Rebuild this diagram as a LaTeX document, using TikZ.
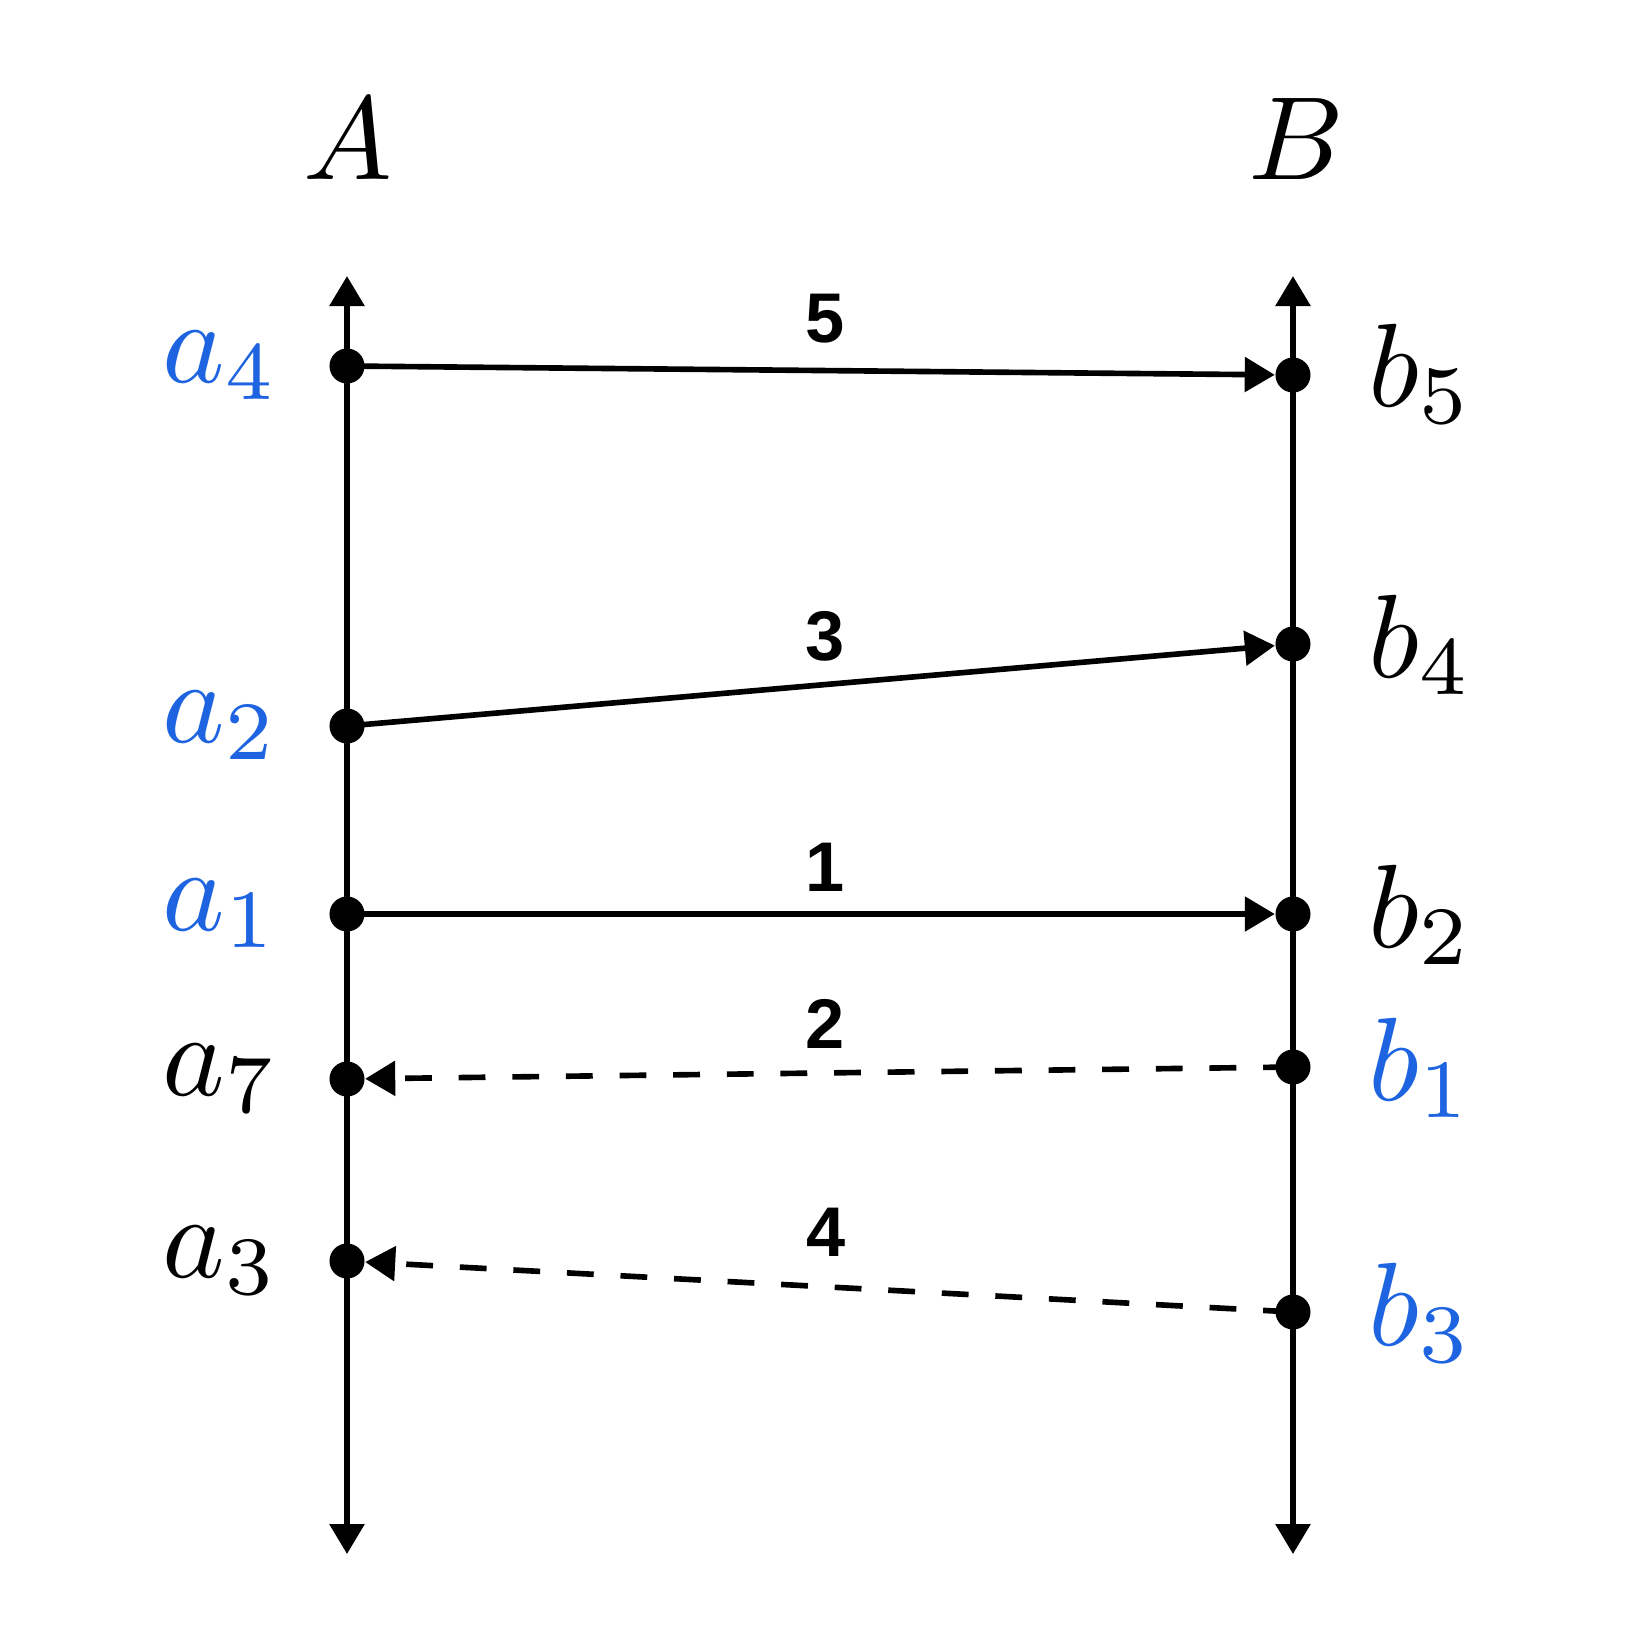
\documentclass[tikz,border=0pt]{standalone}
\usepackage{fontspec}
\newfontfamily\numfont{Liberation Sans}
\usetikzlibrary{arrows.meta}
\definecolor{lblblue}{RGB}{30,100,225}
\tikzset{
  dot/.style={circle,fill=black,inner sep=0pt,minimum size=0.35cm},
  axisline/.style={line width=1.7pt,{Triangle[length=0.3cm,width=0.34cm]}-{Triangle[length=0.3cm,width=0.34cm]}},
  msg/.style={line width=1.6pt,-{Triangle[length=0.3cm,width=0.34cm]}},
  dashmsg/.style={msg,dash pattern=on 0.268cm off 0.268cm,dash phase=0.505cm},
  mathlbl/.style={inner sep=0pt,font=\fontsize{10}{12}\selectfont,scale=3.37},
  leftlbl/.style={mathlbl,anchor=base east},
  rightlbl/.style={mathlbl,anchor=base west},
  numlbl/.style={inner sep=0pt,anchor=base,font=\fontsize{20}{24}\selectfont\numfont\bfseries},
}
\begin{document}
\begin{tikzpicture}[x=0.01cm,y=-0.01cm]
\useasboundingbox (0,0) rectangle (1650,1650);
% axes
\coordinate (Atop) at (347,276);
\coordinate (Abot) at (347,1554);
\coordinate (Btop) at (1293,276);
\coordinate (Bbot) at (1293,1554);
\draw[axisline] (Abot) -- (Atop);
\draw[axisline] (Bbot) -- (Btop);
% headings
\node[mathlbl,anchor=base] (A) at (348,179) {$A$};
\node[mathlbl,anchor=base] (B) at (1296,179) {$B$};
% dots
\node[dot] (a4) at (347,366) {};
\node[dot] (a2) at (347,726) {};
\node[dot] (a1) at (347,914) {};
\node[dot] (a7) at (347,1079) {};
\node[dot] (a3) at (347,1261) {};
\node[dot] (b5) at (1293,375) {};
\node[dot] (b4) at (1293,644) {};
\node[dot] (b2) at (1293,914) {};
\node[dot] (b1) at (1293,1067) {};
\node[dot] (b3) at (1293,1312) {};
% messages
\draw[msg] (a4.center) -- (b5);
\draw[msg] (a2.center) -- (b4);
\draw[msg] (a1.center) -- (b2);
\draw[dashmsg] (b1.center) -- (a7);
\draw[dashmsg] (b3.center) -- (a3);
% message numbers
\node[numlbl] (n5) at (825,342) {5};
\node[numlbl] (n3) at (825,660) {3};
\node[numlbl] (n1) at (825,891) {1};
\node[numlbl] (n2) at (825,1048) {2};
\node[numlbl] (n4) at (826,1256) {4};
% left labels
\node[leftlbl,text=lblblue] (la4) at (281,382) {$a_4$};
\node[leftlbl,text=lblblue] (la2) at (281,742) {$a_2$};
\node[leftlbl,text=lblblue] (la1) at (281,930) {$a_1$};
\node[leftlbl] (la7) at (281,1095) {$a_7$};
\node[leftlbl] (la3) at (281,1277) {$a_3$};
% right labels
\node[rightlbl] (lb5) at (1366,406) {$b_5$};
\node[rightlbl] (lb4) at (1366,677) {$b_4$};
\node[rightlbl] (lb2) at (1366,947) {$b_2$};
\node[rightlbl,text=lblblue] (lb1) at (1366,1100) {$b_1$};
\node[rightlbl,text=lblblue] (lb3) at (1366,1345) {$b_3$};
\end{tikzpicture}
\end{document}
